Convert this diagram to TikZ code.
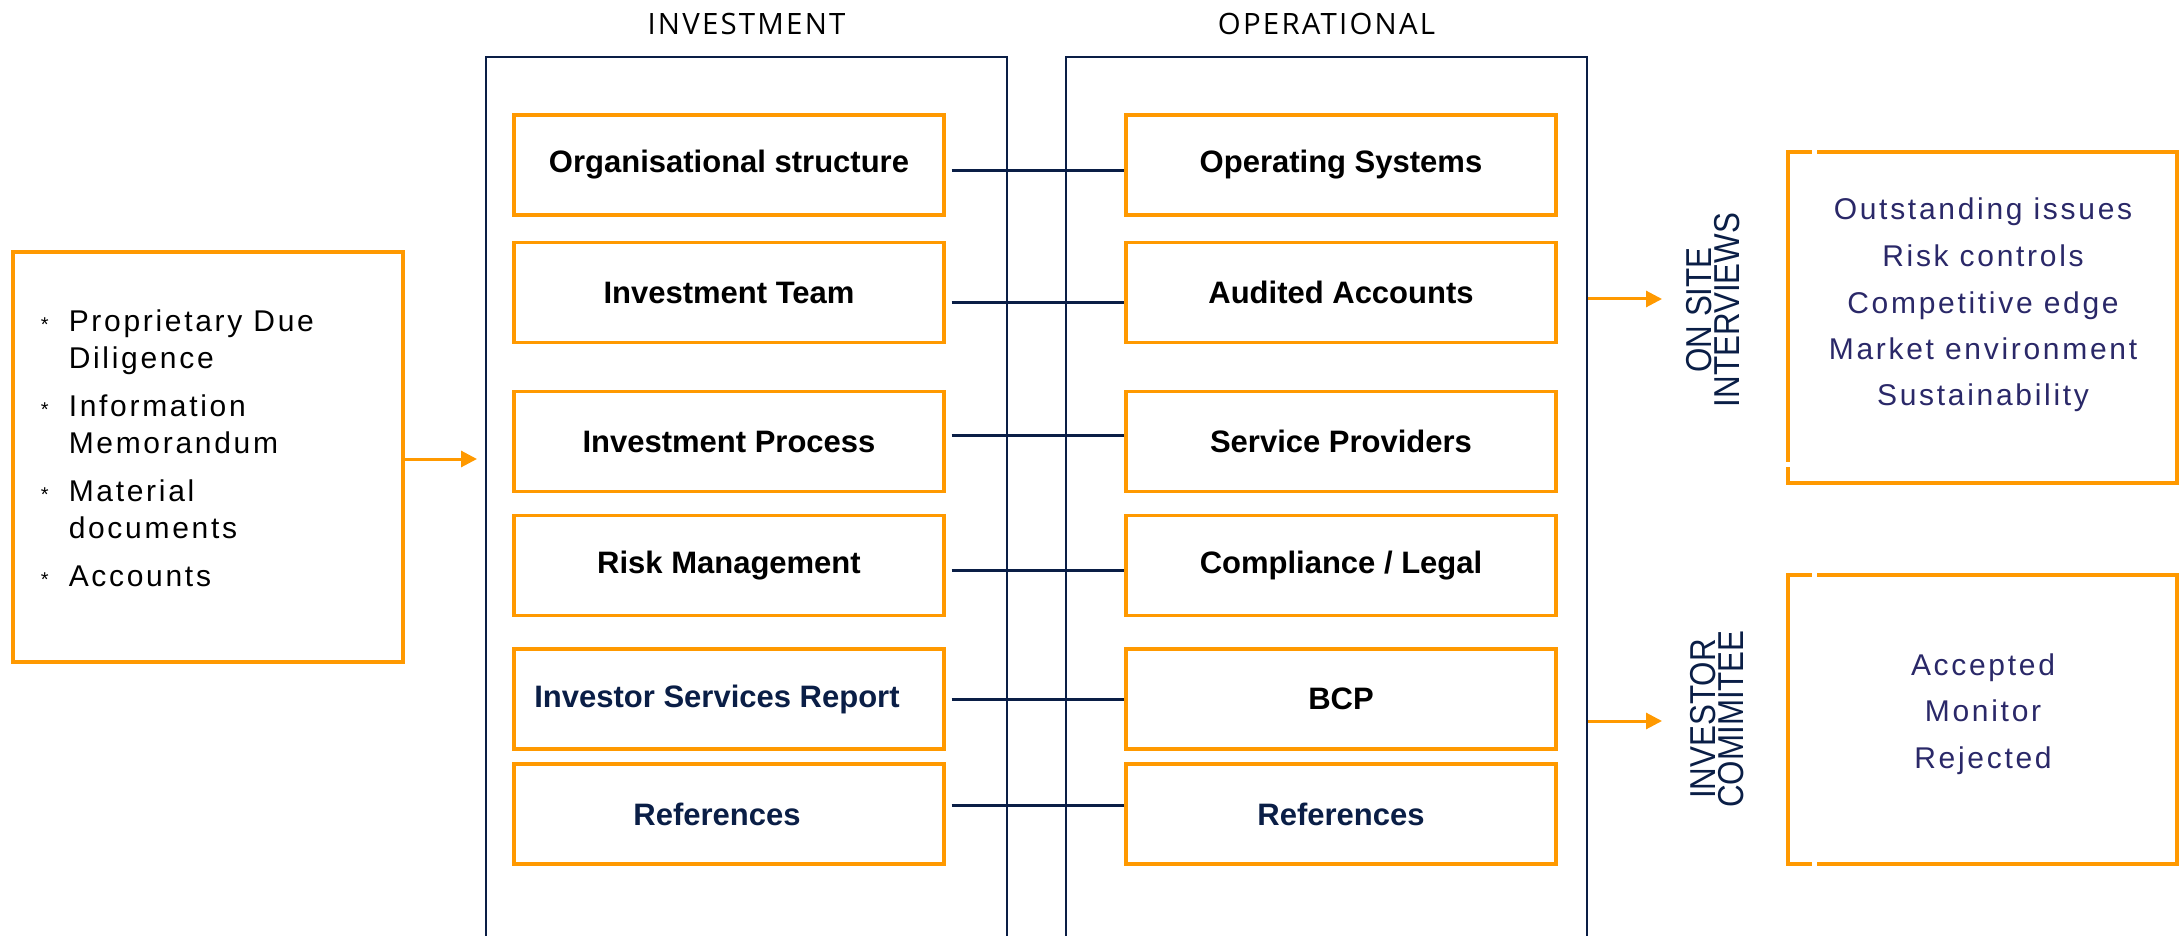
\documentclass[tikz,border=0pt]{standalone}
\usepackage{fontspec}
\setmainfont{Liberation Sans}
\newfontfamily\spacedfont[LetterSpace=9]{Liberation Sans}
\newfontfamily\headfont[LetterSpace=7.5]{Open Sans}
\newfontfamily\narrowfont[FakeStretch=0.87]{Liberation Sans}
\usetikzlibrary{arrows.meta,calc,positioning}
\definecolor{ddorange}{RGB}{255,153,0}
\definecolor{ddnavy}{RGB}{10,30,70}
\definecolor{ddink}{RGB}{42,40,104}
\newcommand{\itemstar}{\llap{{\rmfamily\fontsize{10}{10}\selectfont *}\hspace{10pt}}}
\tikzset{every picture/.style={line width=0.75pt}}

\begin{document}
\begin{tikzpicture}[x=0.5pt,y=0.5pt,yscale=-1,xscale=1,
  column/.style={draw=ddnavy,line width=1.4pt,minimum width=260.5pt,minimum height=471.5pt,inner sep=0pt},
  area/.style={draw=ddorange,line width=1.6pt,minimum width=215pt,minimum height=50pt,inner sep=0pt,font=\fontsize{15.5}{18}\selectfont\bfseries},
  sidebox/.style={draw=ddorange,line width=1.6pt,minimum width=194.5pt,inner sep=0pt},
  link/.style={draw=ddnavy,line width=1.5pt},
  feed/.style={draw=ddorange,line width=1.5pt,-{Triangle[length=8pt,width=8pt]}},
  head/.style={font=\headfont\fontsize{14.7}{16}\selectfont,text=black,anchor=base,inner sep=0pt},
  stage/.style={font=\narrowfont\fontsize{18}{14}\selectfont,text=ddnavy,align=center,rotate=90,inner sep=0pt},
  outcome/.style={font=\spacedfont\fontsize{15}{23.25}\selectfont,text=ddink,align=center,anchor=base,inner sep=0pt},
  doclist/.style={font=\spacedfont\fontsize{15}{18.75}\selectfont,align=left,anchor=base west,inner sep=0pt}]
\useasboundingbox (0,0) rectangle (2180,936);

%Shape: Rectangle [id:invcol]
\node[column] (invcol) at (746.5,528.5) {};
%Shape: Rectangle [id:opcol]
\node[column] (opcol) at (1326.5,528.5) {};
% Text Node
\node[head] (invhead) at (746.5,35) {INVESTMENT};
% Text Node
\node[head] (ophead) at (1326.5,35) {OPERATIONAL};

%Shape: Rectangle [id:docbox]
\node[draw=ddorange,line width=1.6pt,minimum width=195pt,minimum height=205pt,inner sep=0pt] (docbox) at (208,457) {};
% Text Node (base = last line)
\node[doclist] (doctext) at (68,586) {\itemstar Proprietary Due\\Diligence\\[5pt]\itemstar Information\\Memorandum\\[5pt]\itemstar Material\\documents\\[5pt]\itemstar Accounts};

% investment areas
\node[area] (inv1) at (729,165) {Organisational structure};
\node[area] (inv2) at (729,292.5) {Investment Team};
\node[area] (inv3) at (729,441.5) {Investment Process};
\node[area] (inv4) at (729,565.5) {Risk Management};
\node[area,text=ddnavy] (inv5) at (729,699) {\kern-6pt Investor Services Report\kern6pt};
\node[area,text=ddnavy] (inv6) at (729,814) {\kern-6pt References\kern6pt};

% operational areas
\node[area] (op1) at (1341,165) {Operating Systems};
\node[area] (op2) at (1341,292.5) {Audited Accounts};
\node[area] (op3) at (1341,441.5) {Service Providers};
\node[area] (op4) at (1341,565.5) {Compliance / Legal};
\node[area] (op5) at (1341,699) {BCP};
\node[area,text=ddnavy] (op6) at (1341,814) {References};

%Straight Lines
\foreach \i/\d in {1/6,2/10,3/-6,4/5,5/0,6/-9}
  \draw[link] ($(inv\i.east)+(6,\d)$) -- ($(op\i.west)+(0,\d)$);

%Straight Lines
\coordinate (docin) at (477,459);
\draw[feed] (docbox.east |- docin) -- (docin);
\coordinate (sitein) at (1662,299);
\draw[feed] (opcol.east |- sitein) -- (sitein);
\coordinate (comin) at (1662,721);
\draw[feed] (opcol.east |- comin) -- (comin);

% Text Node
\node[stage] (onsite) at (1713,310) {ON SITE\\INTERVIEWS};
% Text Node
\node[stage] (invcom) at (1717,719) {INVESTOR\\COMIMITEE};

%Shape: Rectangle [id:probe]
\node[sidebox,minimum height=165.5pt] (probe) at (1982.5,317.5) {};
%Shape: Rectangle [id:decide]
\node[sidebox,minimum height=144.5pt] (decide) at (1982.5,719.5) {};
\fill[white] (1812,146) rectangle (1817,158);
\fill[white] (1782,462) rectangle (1794,467);
\fill[white] (1812,569) rectangle (1817,581);
\fill[white] (1812,858) rectangle (1817,870);

% Text Node (base = last line)
\node[outcome] (checks) at (1983,406) {Outstanding issues\\Risk controls\\Competitive edge\\Market environment\\Sustainability};
% Text Node
\node[outcome] (verdict) at (1983,768) {Accepted\\Monitor\\Rejected};

\end{tikzpicture}
\end{document}
